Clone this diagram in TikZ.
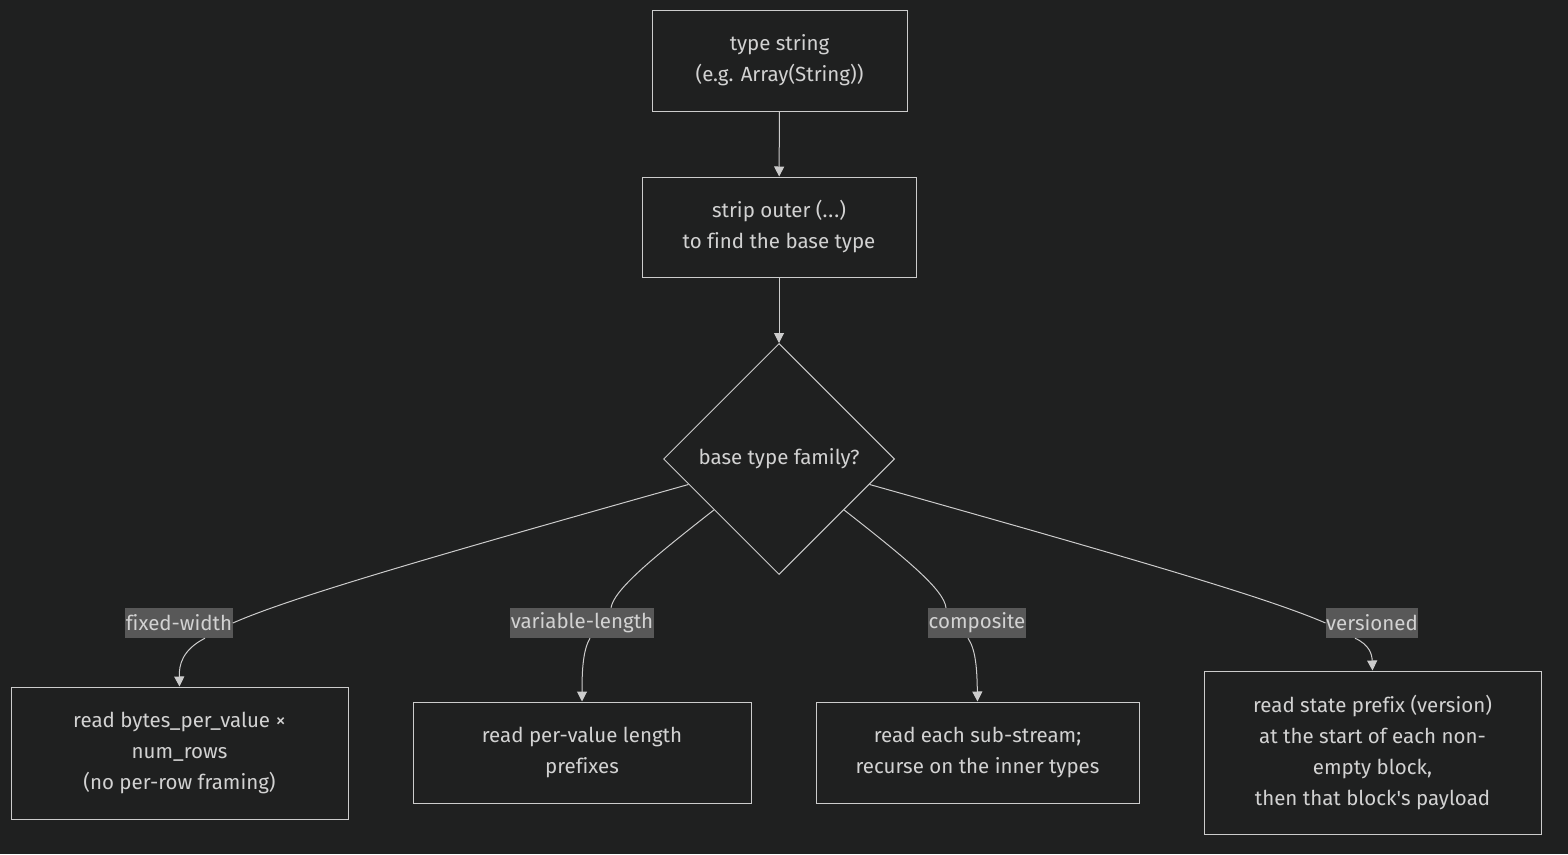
\documentclass[tikz,border=0pt]{standalone}
\usepackage{fontspec}
\setmainfont{Fira Sans}[Ligatures=CommonOff]
\usepackage{tikz}
\usetikzlibrary{shapes.geometric,arrows.meta,positioning}
\definecolor{bgdark}{HTML}{1F2020}
\definecolor{linegray}{HTML}{CCCCCC}
\definecolor{labelgray}{HTML}{585858}
\definecolor{textgray}{HTML}{D2D2D2}

\begin{document}
\begin{tikzpicture}[
    x=1pt,
    y=-1pt,
    box/.style={draw=linegray, line width=1pt, text=textgray, align=center, inner sep=0pt, font=\fontsize{20.5}{31}\selectfont},
    decision/.style={diamond, draw=linegray, line width=1pt, text=textgray, aspect=1, inner sep=0pt, minimum width=231pt, minimum height=231pt, font=\fontsize{20.5}{31}\selectfont},
    edgelabel/.style={fill=labelgray, text=textgray, inner xsep=0.5pt, inner ysep=0pt, minimum height=30pt, font=\fontsize{20.5}{22}\selectfont},
    link/.style={draw=linegray, line width=1pt},
    arrow/.style={link, -{Triangle[width=10pt,length=10pt]}}
]
    % Background and page size
    \fill[bgdark] (0,0) rectangle (1568,854);
    \useasboundingbox (0,0) rectangle (1568,854);

    % Main chain
    \node[box, minimum width=255pt, minimum height=101pt] (typestr) at (779.5,60.5) {type string\\(e.g. Array(String))};
    \node[box, minimum width=274pt, minimum height=100pt] (strip) at (779,227) {strip outer (.\kern1pt.\kern1pt.)\\to find the base type};
    \node[decision] (family) at (779,459) {base type family?};

    % Leaves
    \node[box, minimum width=337pt, minimum height=132pt] (fixed) at (179.5,753) {read bytes\_per\_value ×\\num\_rows\\(no per-row framing)};
    \node[box, minimum width=338pt, minimum height=101pt] (varlen) at (582,752.5) {read per-value length\\prefixes};
    \node[box, minimum width=323pt, minimum height=101pt] (compo) at (977.5,752.5) {read each sub-stream;\\recurse on the inner types};
    \node[box, minimum width=337pt, minimum height=163pt] (versio) at (1372.5,752.5) {read state prefix (version)\\at the start of each non-\\empty block,\\then that block\textquotesingle s payload};

    % Edge labels
    \node[edgelabel] (lfixed) at (179,623) {fixed-width};
    \node[edgelabel] (lvarlen) at (582,623) {variable-length};
    \node[edgelabel] (lcompo) at (977,623) {composite};
    \node[edgelabel] (lversio) at (1372,623) {versioned};

    % Straight arrows
    \draw[arrow] (typestr) -- (strip);
    \draw[arrow] (strip) -- (family);

    % Branches to labels
    \draw[link] (family) .. controls (420,560) and (290,598) .. (lfixed.east);
    \draw[link] (family) .. controls (650,560) and (614,590) .. ([xshift=29pt]lvarlen.north);
    \draw[link] (family) .. controls (908,560) and (944,590) .. ([xshift=-31pt]lcompo.north);
    \draw[link] (family) .. controls (1138,560) and (1268,598) .. (lversio.west);

    % Labels to leaves
    \draw[arrow] ([xshift=26pt]lfixed.south) .. controls (182,650) and (179,665) .. (fixed.north);
    \draw[arrow] ([xshift=8pt]lvarlen.south) .. controls (583,650) and (582,670) .. (varlen.north);
    \draw[arrow] ([xshift=-9pt]lcompo.south) .. controls (976,650) and (977,670) .. (compo.north);
    \draw[arrow] ([xshift=-17pt]lversio.south) .. controls (1370,645) and (1372,655) .. (versio.north);
\end{tikzpicture}
\end{document}
